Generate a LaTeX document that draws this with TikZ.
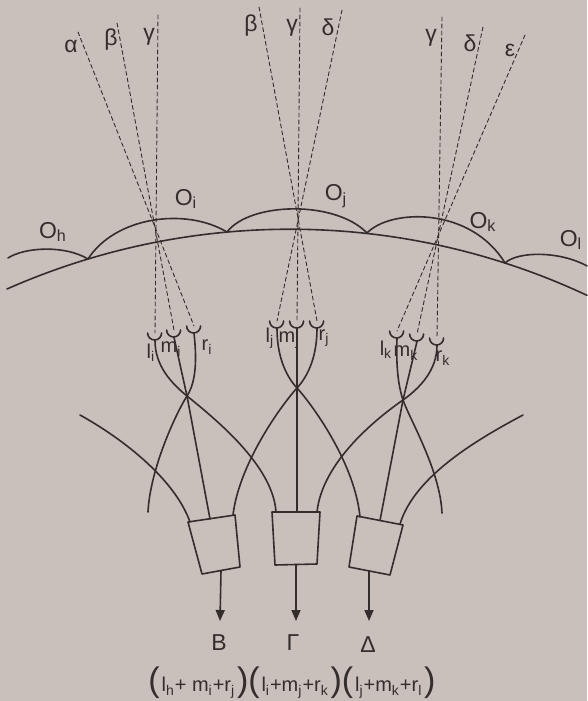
\documentclass[tikz,border=0pt]{standalone}
\usepackage{fontspec}
\setmainfont{Liberation Sans}
\usetikzlibrary{arrows.meta}
\definecolor{paper}{RGB}{201,192,187}
\definecolor{ink}{RGB}{52,45,45}
\newcommand{\pr}[1]{{\fontsize{17}{17}\selectfont(}\kern0.9pt#1\kern0.9pt{\fontsize{17}{17}\selectfont)}}
\tikzset{
	fibre/.style = {ink, line width=0.8pt},
	ray/.style = {ink, line width=0.45pt, dash pattern=on 2pt off 1.5pt},
	cup/.style = {circle, inner sep=0pt, minimum size=7pt},
	lbl/.style = {ink, inner sep=0pt, font=\fontsize{10}{11}\selectfont},
	big/.style = {lbl, font=\fontsize{11.5}{12}\selectfont},
	outarrow/.style = {fibre, -{Triangle[length=5.5pt, width=4.5pt]}}
}

\begin{document}
\begin{tikzpicture}[x=0.5pt, y=-0.5pt, line cap=round, line join=round]
	\fill[paper] (0,0) rectangle (587,701);

	\coordinate (hi) at (88,259);
	\coordinate (ij) at (227,232);
	\coordinate (jk) at (367,233);
	\coordinate (kl) at (505,263);
	\draw[fibre] (7,289) arc[start angle=113.85, end angle=64.9, radius=350pt];
	\draw[fibre] (8,258) .. controls (25,247) and (65,245) .. (hi);
	\draw[fibre] (hi) .. controls (115,217) and (185,207) .. (ij);
	\draw[fibre] (ij) .. controls (250,202) and (335,200) .. (jk);
	\draw[fibre] (jk) .. controls (390,209) and (470,206) .. (kl);
	\draw[fibre] (kl) .. controls (518,251) and (560,251) .. (587,266);
	\node[big] (Oh) at (53,232) {O\textsubscript{h}};
	\node[big] (Oi) at (186,199) {O\textsubscript{i}};
	\node[big] (Oj) at (336,196) {O\textsubscript{j}};
	\node[big] (Ok) at (483,222) {O\textsubscript{k}};
	\node[big] (Ol) at (571,240) {O\textsubscript{l}};

	\coordinate (ai) at (78,32);
	\coordinate (bi) at (117,23);
	\coordinate (gi) at (158,15);
	\coordinate (bj) at (259,7);
	\coordinate (gj) at (300,8);
	\coordinate (dj) at (342,10);
	\coordinate (gk) at (442,17);
	\coordinate (dk) at (483,27);
	\coordinate (ek) at (525,35);
	\node[big] (tai) at (71,46) {α};
	\node[big] (tbi) at (111,40) {β};
	\node[big] (tgi) at (149,37) {γ};
	\node[big] (tbj) at (251,26) {β};
	\node[big] (tgj) at (292,28) {γ};
	\node[big] (tdj) at (328,27) {δ};
	\node[big] (tgk) at (431,38) {γ};
	\node[big] (tdk) at (470,43) {δ};
	\node[big] (tek) at (510,50) {ε};

	\node[cup] (li) at (155,333) {};
	\node[cup] (mi) at (174,330) {};
	\node[cup] (ri) at (194,326) {};
	\node[cup] (lj) at (277,321) {};
	\node[cup] (mj) at (297,321) {};
	\node[cup] (rj) at (317,321) {};
	\node[cup] (lk) at (397,331) {};
	\node[cup] (mk) at (417,334) {};
	\node[cup] (rk) at (437,338) {};
	\foreach \c in {li,mi,ri,lj,mj,rj,lk,mk,rk}
		\draw[fibre] (\c.west) arc[start angle=180, end angle=360, radius=3.5pt];
	\node[lbl] (tli) at (151,353) {l\textsubscript{i}};
	\node[lbl] (tmi) at (171,349) {m\textsubscript{i}};
	\node[lbl] (tri) at (207,347) {r\textsubscript{i}};
	\node[lbl] (tlj) at (270,338) {l\textsubscript{j}};
	\node[lbl] (tmj) at (289,340) {m\textsubscript{j}};
	\node[lbl] (trj) at (324,338) {r\textsubscript{j}};
	\node[lbl] (tlk) at (386,350) {l\textsubscript{k}};
	\node[lbl] (tmk) at (406,353) {m\textsubscript{k}};
	\node[lbl] (trk) at (443,358) {r\textsubscript{k}};

	\draw[ray] (ai) -- (ri.center);
	\draw[ray] (bi) -- (mi.center);
	\draw[ray] (gi) -- (li.center);
	\draw[ray] (bj) -- (rj.center);
	\draw[ray] (gj) -- (mj.center);
	\draw[ray] (dj) -- (lj.center);
	\draw[ray] (gk) -- (rk.center);
	\draw[ray] (dk) -- (mk.center);
	\draw[ray] (ek) -- (lk.center);

	\coordinate (xi) at (187,396);
	\coordinate (xj) at (297,388);
	\coordinate (xk) at (403,400);

	\coordinate (B1) at (188,522);
	\coordinate (B2) at (235,515);
	\coordinate (B3) at (240,567);
	\coordinate (B4) at (202,574);
	\coordinate (G1) at (272,512);
	\coordinate (G2) at (320,512);
	\coordinate (G3) at (317,564);
	\coordinate (G4) at (275,565);
	\coordinate (D1) at (357,516);
	\coordinate (D2) at (403,525);
	\coordinate (D3) at (390,575);
	\coordinate (D4) at (349,567);
	\draw[fibre] (B1) -- (B2) -- (B3) -- (B4) -- cycle;
	\draw[fibre] (G1) -- (G2) -- (G3) -- (G4) -- cycle;
	\draw[fibre] (D1) -- (D2) -- (D3) -- (D4) -- cycle;
	\coordinate (Bl) at (190,522);
	\coordinate (Bm) at (210,519);
	\coordinate (Br) at (233,515);
	\coordinate (Gl) at (276,512);
	\coordinate (Gm) at (297,512);
	\coordinate (Gr) at (317,512);
	\coordinate (Dl) at (360,517);
	\coordinate (Dm) at (380,520.5);
	\coordinate (Dr) at (400,524);

	\coordinate (lh) at (80,415);
	\coordinate (ri') at (148,512);
	\coordinate (lk') at (442,513);
	\coordinate (rl) at (523,415);

	\draw[fibre] (lh) .. controls (125,440) and (175,480) .. (Bl);
	\draw[fibre] (li.south) .. controls (155,365) and (170,382) .. (xi)
		.. controls (214,418) and (273,465) .. (Gl);
	\draw[fibre] (mi.south) -- (xi) -- (Bm);
	\draw[fibre] (ri.south) .. controls (197,360) and (196,382) .. (xi)
		.. controls (175,415) and (150,470) .. (ri');
	\draw[fibre] (lj.south) .. controls (277,355) and (285,375) .. (xj)
		.. controls (315,408) and (355,465) .. (Dl);
	\draw[fibre] (mj.south) -- (xj) -- (Gm);
	\draw[fibre] (rj.south) .. controls (317,355) and (309,375) .. (xj)
		.. controls (279,408) and (239,465) .. (Br);
	\draw[fibre] (lk.south) .. controls (396,365) and (398,385) .. (xk)
		.. controls (410,420) and (440,470) .. (lk');
	\draw[fibre] (mk.south) -- (xk) -- (Dm);
	\draw[fibre] (rk.south) .. controls (437,370) and (420,388) .. (xk)
		.. controls (370,423) and (322,465) .. (Gr);
	\draw[fibre] (rl) .. controls (480,438) and (415,475) .. (Dr);

	\coordinate (Bo) at (221,570.5);
	\coordinate (Go) at (296,564.5);
	\coordinate (Do) at (369,571);
	\coordinate (Bt) at (220,621);
	\coordinate (Gt) at (296,621);
	\coordinate (Dt) at (369,621);
	\draw[outarrow] (Bo) -- (Bt);
	\draw[outarrow] (Go) -- (Gt);
	\draw[outarrow] (Do) -- (Dt);
	\node[big] (B) at (219,643) {B};
	\node[big] (Gamma) at (293,643) {Γ};
	\node[big] (Delta) at (368,645) {Δ};
	\node[lbl] (sum) at (292,683) {\pr{l\textsubscript{h}+ m\textsubscript{i}+r\textsubscript{j}}\pr{l\textsubscript{i}+m\textsubscript{j}+r\textsubscript{k}}\pr{l\textsubscript{j}+m\textsubscript{k}+r\textsubscript{l}}};
\end{tikzpicture}
\end{document}
